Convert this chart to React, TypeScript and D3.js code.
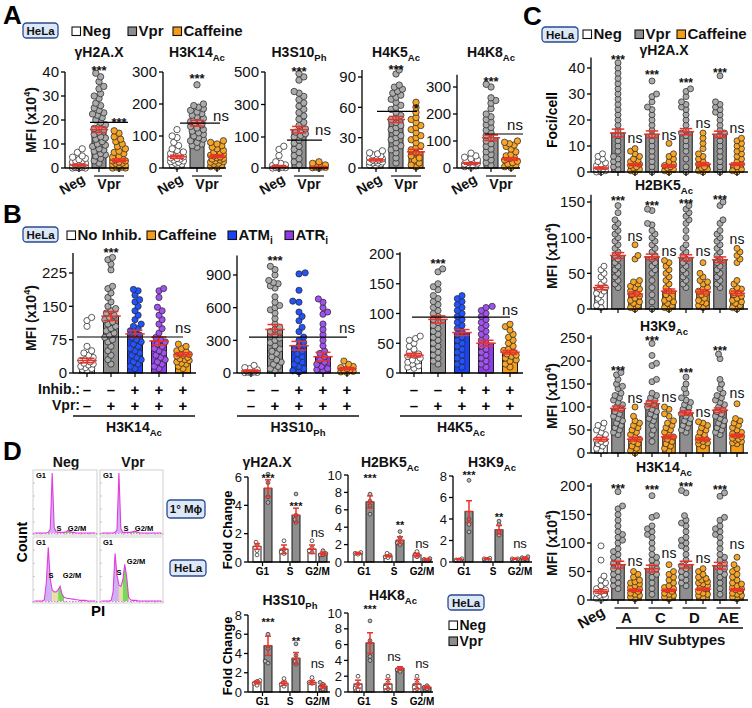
import React from 'react';
import * as d3 from 'd3';

const FONT = "'Liberation Sans', Arial, Helvetica, sans-serif";

const C = {
  neg: '#ffffff', vpr: '#8e8e8e', caff: '#f59d17', atm: '#1a43f7', atr: '#8e3be8',
  negDot: '#ffffff', vprDot: '#ababab', caffDot: '#f7a526', atmDot: '#2353ff', atrDot: '#a352f2',
  err: '#e8342a', ink: '#111111',
};

// ---------------- Panel A data ----------------
const aTitles = ['γH2A.X', 'H3K14', 'H3S10', 'H4K5', 'H4K8'];
const aSubs = ['', 'Ac', 'Ph', 'Ac', 'Ac'];
const aGammaMeans = [1.2, 16, 3.2];
const aGammaErrs = [0.4, 1.2, 0.6];
const aGammaDots = [
  [8, 6.5, 5, 4.5, 4, 3.5, 3, 3, 2.5, 2, 2, 1.5, 1.5, 1, 1, 1, 0.5, 0.5, 0.5, 0.3, 0.2, 0, 0, 0],
  [39.5, 38, 36, 34, 33, 31, 30, 29, 27, 26, 25, 24, 23, 22.5, 22, 21, 20, 19, 18, 17, 16.5, 16, 15, 14, 13, 12.5, 12, 11, 10, 9.5, 9, 8, 7.5, 7, 6, 5.5, 5, 4, 3, 2],
  [15.5, 14.5, 13, 12, 11, 10, 9, 8, 7, 6.5, 6, 5, 4.5, 4, 3.5, 3, 3, 2.5, 2, 2, 1.5, 1, 1, 0.5, 0.5, 0, 0, 0],
];
const aK14Means = [35, 140, 37];
const aK14Errs = [5, 9, 4];
const aK14Dots = [
  [120, 100, 95, 80, 70, 60, 55, 50, 45, 40, 38, 35, 32, 30, 28, 25, 22, 20, 18, 15, 12, 10, 5],
  [260, 200, 195, 190, 185, 180, 175, 170, 165, 160, 155, 150, 148, 145, 140, 135, 130, 125, 120, 115, 110, 105, 100, 95, 90, 85, 80, 75, 70, 65],
  [85, 80, 75, 70, 65, 60, 55, 50, 48, 45, 42, 40, 38, 35, 32, 30, 28, 25, 22, 20, 18, 15, 12, 10, 5, 2],
];
const aS10Means = [5, 145, 4];
const aS10Errs = [3, 20, 1.5];
const aS10Dots = [
  [70, 60, 40, 20, 15, 10, 8, 5, 3, 2, 1, 0, 0],
  [490, 470, 450, 380, 370, 350, 330, 310, 290, 270, 250, 230, 210, 190, 170, 150, 140, 130, 120, 110, 100, 90, 80, 70, 60, 50, 40, 30, 20, 10],
  [20, 15, 12, 10, 8, 6, 5, 4, 3, 2, 1, 0],
];
const aK5Means = [8, 48, 16];
const aK5Errs = [1, 3, 2.5];
const aK5Dots = [
  [17, 15, 14, 13, 12, 11, 10, 9, 8, 8, 7, 6, 6, 5, 5, 4, 3, 2],
  [97, 93, 82, 80, 78, 76, 74, 72, 70, 68, 65, 62, 60, 58, 55, 52, 50, 48, 45, 42, 40, 38, 35, 32, 30, 28, 25, 22, 20, 18, 15, 10, 5],
  [65, 60, 55, 50, 48, 45, 42, 40, 38, 35, 32, 30, 28, 25, 22, 20, 18, 15, 12, 10, 8, 5, 3, 1],
];
const aK8Means = [17, 112, 33];
const aK8Errs = [3, 10, 5];
const aK8Dots = [
  [55, 45, 40, 35, 30, 25, 22, 20, 18, 15, 12, 10, 8, 5, 3],
  [310, 300, 260, 250, 240, 220, 200, 190, 180, 170, 160, 150, 140, 130, 120, 110, 100, 90, 80, 70, 60, 50, 40, 30, 20, 10],
  [100, 95, 90, 85, 80, 70, 60, 50, 45, 40, 35, 30, 25, 20, 15, 10, 5, 2],
];
const aSigLine = [19, 140, 90, 56, 126];
const aSigText = ['***', 'ns', 'ns', '*', 'ns'];

// ---------------- Panel B data ----------------
const bTitles = ['H3K14', 'H3S10', 'H4K5'];
const bSubs = ['Ac', 'Ph', 'Ac'];
const bInhib = ['–', '–', '+', '+', '+'];
const bVpr = ['–', '+', '+', '+', '+'];
const bK14Means = [28, 128, 88, 72, 42];
const bK14Errs = [5, 10, 8, 9, 4];
const bK14Dots = [
  [125, 118, 105, 60, 50, 45, 40, 35, 30, 28, 25, 22, 20, 18, 15, 12, 10, 8, 5],
  [260, 255, 245, 232, 195, 190, 180, 170, 160, 150, 145, 140, 135, 130, 125, 120, 115, 110, 105, 100, 95, 90, 85, 80, 75, 70, 60, 50, 40, 30, 20],
  [188, 185, 175, 165, 160, 150, 140, 130, 120, 110, 105, 100, 95, 90, 85, 80, 75, 70, 65, 60, 55, 50, 45, 40, 35, 30, 25, 20, 15, 10],
  [190, 185, 170, 148, 140, 130, 120, 110, 100, 90, 80, 75, 70, 65, 60, 55, 50, 45, 40, 35, 30, 25, 20, 15, 10],
  [65, 60, 55, 50, 48, 45, 42, 40, 38, 35, 32, 30, 28, 25, 22, 20, 15, 10],
];
const bS10Means = [20, 400, 250, 150, 40];
const bS10Errs = [8, 45, 40, 40, 10];
const bS10Dots = [
  [70, 50, 40, 30, 25, 20, 15, 10, 8, 5, 3, 0],
  [980, 950, 900, 850, 830, 820, 800, 780, 700, 650, 620, 600, 580, 550, 500, 450, 420, 400, 380, 350, 320, 300, 280, 250, 220, 200, 180, 150, 120, 100, 80, 60, 40, 20],
  [920, 910, 760, 660, 650, 560, 520, 480, 420, 380, 330, 300, 280, 250, 220, 200, 180, 150, 120, 100, 80, 60, 40, 20, 10],
  [680, 650, 600, 560, 540, 450, 400, 350, 300, 250, 200, 180, 150, 120, 100, 80, 60, 40, 30, 20],
  [110, 80, 60, 50, 40, 30, 20, 15, 10, 5],
];
const bK5Means = [30, 90, 68, 50, 35];
const bK5Errs = [3, 6, 5, 5, 3];
const bK5Dots = [
  [62, 58, 55, 50, 45, 40, 35, 32, 30, 28, 25, 22, 20, 18, 15, 12, 10, 8],
  [175, 170, 150, 145, 140, 130, 125, 120, 115, 110, 105, 100, 95, 90, 85, 80, 75, 70, 65, 60, 55, 50, 45, 40, 35, 30, 25, 20, 15],
  [130, 125, 120, 115, 110, 105, 100, 95, 90, 85, 80, 75, 70, 65, 60, 55, 50, 45, 40, 35, 30, 25, 20, 15, 10],
  [112, 110, 105, 100, 95, 90, 85, 80, 75, 70, 65, 60, 55, 50, 45, 40, 35, 30, 25, 20, 15, 10],
  [82, 78, 72, 65, 60, 55, 50, 45, 40, 38, 35, 32, 30, 28, 25, 22, 20, 15, 10],
];
const bSigLine = [81, 330, 94];

// ---------------- Panel C data ----------------
const cSubtypes = ['A', 'C', 'D', 'AE'];
const cTitles = ['γH2A.X', 'H2BK5', 'H3K9', 'H3K14'];
const cSubs = ['', 'Ac', 'Ac', 'Ac'];
const cGammaMeans = [1.5, 15, 2.8, 14.5, 2.3, 15.5, 3, 14.5, 3];
const cGammaErrs = [0.4, 1.5, 0.4, 1.3, 0.5, 1.2, 0.6, 1.2, 0.5];
const cGammaDots = [
  [7, 6, 5, 4, 3.5, 3, 2.5, 2, 1.5, 1, 1, 0.5, 0.5, 0, 0],
  [42, 40, 38, 36, 34, 32, 30, 28, 26, 24, 22, 20, 18, 16, 14, 12, 10, 8, 6, 5, 4, 3, 2, 1],
  [9, 8, 7, 6, 5, 4.5, 4, 3.5, 3, 2.5, 2, 1.5, 1, 0.5, 0],
  [35, 30, 29, 27, 25, 24, 22, 20, 18, 16, 14, 12, 10, 8, 6, 4, 2, 0],
  [11, 7, 6, 5, 4, 3, 2.5, 2, 1.5, 1, 0.5, 0],
  [32, 31, 29, 27, 26, 25, 24, 22, 20, 18, 16, 15, 14, 12, 10, 8, 5, 2, 0],
  [15, 13, 11, 9, 7, 6, 5, 4, 3, 2, 1.5, 1, 0.5, 0],
  [37, 27, 26, 25, 24, 23, 22, 20, 18, 16, 15, 14, 12, 10, 8, 6, 4, 2, 0],
  [13, 12, 11, 10, 9, 8, 7, 6, 5, 4, 3, 2, 1, 0.5, 0],
];
const cK5Means = [30, 75, 21, 73, 25, 72, 24, 69, 22];
const cK5Errs = [3, 4, 3, 4, 3, 4, 3, 4, 3];
const cK5Dots = [
  [60, 55, 50, 45, 40, 35, 30, 28, 25, 22, 20, 15, 10, 5, 2],
  [145, 135, 125, 120, 115, 110, 105, 100, 95, 90, 85, 80, 75, 70, 65, 60, 55, 50, 45, 40, 35, 30],
  [90, 75, 70, 40, 38, 35, 32, 30, 28, 25, 22, 20, 18, 15, 12, 10, 8, 5, 2, 0],
  [140, 138, 120, 118, 110, 105, 100, 95, 90, 85, 80, 75, 70, 65, 60, 55, 50, 40, 30, 20, 10, 0],
  [68, 65, 60, 55, 50, 45, 40, 35, 30, 25, 20, 15, 12, 10, 8, 5, 2, 0],
  [145, 140, 135, 130, 125, 120, 110, 100, 90, 85, 80, 75, 70, 65, 60, 55, 50, 45, 40, 35, 30],
  [65, 50, 45, 40, 38, 35, 30, 28, 25, 22, 20, 15, 12, 10, 8, 5, 2],
  [150, 145, 125, 120, 110, 105, 100, 95, 90, 85, 80, 75, 70, 65, 60, 55, 50, 45, 40, 35, 30],
  [85, 80, 75, 70, 65, 40, 35, 30, 28, 25, 22, 20, 18, 15, 12, 10, 8, 5, 2, 0],
];
const cK9Means = [30, 97, 30, 107, 35, 87, 30, 93, 38];
const cK9Errs = [4, 5, 4, 6, 4, 5, 3, 5, 3];
const cK9Dots = [
  [65, 60, 55, 50, 45, 40, 35, 30, 28, 25, 22, 20, 15, 10, 5],
  [175, 170, 160, 150, 145, 140, 130, 125, 120, 115, 110, 105, 100, 95, 90, 85, 80, 75, 70, 65, 60, 55, 50, 45, 40],
  [100, 80, 70, 65, 60, 55, 50, 45, 40, 35, 30, 25, 20, 15, 10, 5, 0],
  [238, 212, 195, 190, 160, 155, 130, 125, 120, 115, 110, 105, 100, 95, 90, 85, 80, 75, 70, 60, 50, 40, 25],
  [100, 95, 85, 80, 70, 65, 60, 55, 50, 45, 40, 35, 30, 25, 20, 15, 10, 5],
  [165, 150, 140, 130, 120, 115, 110, 105, 100, 95, 90, 85, 80, 75, 70, 65, 60, 55, 50, 45],
  [68, 65, 60, 55, 50, 45, 40, 35, 32, 30, 28, 25, 22, 20, 15],
  [215, 205, 160, 150, 140, 130, 125, 120, 115, 110, 105, 100, 95, 90, 85, 80, 75, 70, 65, 60, 55, 50, 45, 40],
  [107, 75, 70, 65, 60, 55, 50, 45, 42, 40, 38, 35, 32, 30, 28, 25, 22, 20],
];
const cK14Means = [15, 62, 17, 55, 17, 62, 19, 60, 18];
const cK14Errs = [3, 6, 2, 6, 2, 6, 2, 6, 2];
const cK14Dots = [
  [95, 70, 42, 35, 30, 25, 20, 18, 15, 12, 10, 8, 5, 3, 1],
  [190, 165, 160, 150, 140, 130, 120, 115, 110, 105, 100, 90, 85, 80, 75, 70, 65, 60, 55, 50, 45, 40, 35, 30, 25, 20],
  [50, 45, 40, 35, 32, 30, 28, 25, 22, 20, 18, 15, 12, 10, 8, 5, 2],
  [183, 148, 145, 130, 125, 120, 115, 110, 100, 90, 80, 75, 70, 65, 60, 55, 50, 45, 40, 30, 20, 10],
  [62, 50, 45, 40, 35, 30, 25, 22, 20, 18, 15, 12, 10, 8, 5, 2],
  [192, 188, 148, 140, 135, 130, 120, 110, 105, 100, 95, 90, 80, 70, 60, 55, 50, 45, 40, 35, 30, 25],
  [55, 50, 45, 40, 38, 35, 32, 30, 28, 25, 22, 20, 15, 12, 10, 8, 5],
  [188, 182, 145, 140, 130, 125, 120, 115, 110, 100, 90, 80, 75, 70, 65, 60, 55, 50, 45, 40, 30, 20, 10],
  [75, 62, 55, 50, 45, 40, 35, 30, 28, 25, 22, 20, 18, 15, 12, 10, 8, 5, 2],
];
// label heights (value units) for *** above Vpr and ns above caffeine bars
const cStarVals = [[44.2, 38.5, 35.4, 39.2], [156, 149, 151, 157], [185, 250, 180, 228], [201, 199, 203, 199]];
const cNsVals = [[11.2, 12.3, 17, 15], [95, 74, 74, 91], [109, 111, 78, 120], [60, 74, 65, 89]];

// ---------------- Panel D data ----------------
const dPhases = ['G1', 'S', 'G2/M'];
const dTitles = ['γH2A.X', 'H2BK5', 'H3K9', 'H3S10', 'H4K8'];
const dSubs = ['', 'Ac', 'Ac', 'Ph', 'Ac'];
const dMeans = [
  [1.1, 5.2, 0.9, 3.3, 0.9, 0.6],
  [1.0, 6.9, 0.7, 2.5, 0.8, 0.3],
  [0.25, 4.7, 0.3, 3.0, 0.3, 0.35],
  [1.0, 4.8, 0.9, 3.5, 1.0, 0.6],
  [1.0, 6.2, 1.0, 3.0, 1.0, 0.6],
];
const dErrs = [
  [0.2, 0.6, 0.3, 0.5, 0.3, 0.1],
  [0.1, 0.7, 0.1, 0.4, 0.2, 0.1],
  [0.05, 1.0, 0.05, 0.4, 0.05, 0.1],
  [0.15, 1.0, 0.2, 0.6, 0.2, 0.2],
  [0.5, 1.3, 0.6, 0.2, 0.6, 0.15],
];
const dDots = [
  [[1.4, 1.2, 0.8, 0.5], [6.2, 5.6, 4.6, 4.2], [1.5, 0.9, 0.7, 0.6], [4.8, 3.3, 3.0, 2.8], [1.5, 1.0, 0.8, 0.7], [0.8, 0.6, 0.5, 0.5]],
  [[1.1, 1.0, 0.9], [7.8, 7.0, 6.5, 5.5], [1.0, 0.8, 0.6, 0.5], [3.5, 2.8, 2.2, 2.0], [1.2, 0.9, 0.6], [0.4, 0.3, 0.2]],
  [[0.3, 0.2, 0.2], [7.6, 4.0, 3.5, 2.8], [0.35, 0.3, 0.25], [3.8, 3.5, 2.8, 2.5], [0.3, 0.3, 0.2], [0.5, 0.4, 0.3]],
  [[1.2, 1.1, 0.9, 0.7], [6.0, 4.5, 3.2, 3.0], [1.4, 1.0, 0.8, 0.6], [5.0, 3.8, 3.2, 2.9], [1.5, 1.0, 0.9], [1.0, 0.8, 0.5, 0.3]],
  [[2.0, 1.0, 0.5, 0.3], [9.0, 6.5, 4.5, 4.0], [2.0, 1.2, 0.6, 0.4], [3.0, 2.8, 2.6], [2.0, 1.2, 0.6, 0.4], [0.8, 0.6, 0.4]],
];
const dTicks = [[0, 2, 4, 6], [0, 2, 4, 6, 8, 10], [0, 2, 4, 6, 8], [0, 2, 4, 6, 8], [0, 2, 4, 6, 8, 10]];
// significance labels per plot: [bar index, text, value]
const dSig: [number, string, number][][] = [
  [[1, '***', 6.14], [3, '***', 4.16], [4.5, 'ns', 1.76]],
  [[1, '***', 10.0], [3, '**', 4.5], [4.5, 'ns', 1.6]],
  [[1, '***', 8.3], [3, '**', 4.4], [4.5, 'ns', 1.3]],
  [[1, '***', 7.5], [3, '**', 5.6], [4.5, 'ns', 2.5]],
  [[1, '***', 10.8], [2.5, 'ns', 3.9], [4.5, 'ns', 3.0]],
];

// flow histograms (counts per PI bin, % of box height)
const histTopNeg = [0, 0, 0, 0, 0, 0, 0, 1, 6, 100, 9, 2, 1, 1, 1, 1, 2, 4, 3, 1, 1, 0, 0, 0, 0, 0, 0, 0, 0, 0, 0, 0];
const histTopVpr = [0, 0, 0, 0, 0, 0, 0, 1, 5, 100, 7, 1, 1, 1, 1, 1, 2, 3, 2, 1, 0, 0, 0, 0, 0, 0, 0, 0, 0, 0, 0, 0];
const histHeLaNeg = [0, 0, 0, 0, 0, 2, 30, 88, 36, 18, 15, 15, 18, 24, 11, 6, 5, 4, 4, 3, 3, 2, 2, 1, 1, 1, 1, 0, 0, 0, 0, 0];
const histHeLaVpr = [0, 0, 0, 0, 0, 1, 15, 78, 42, 26, 24, 34, 60, 40, 6, 2, 1, 1, 1, 0, 0, 0, 0, 0, 0, 0, 0, 0, 0, 0, 0, 0];

// ---------------- helpers ----------------
type Scale = (v: number) => number;

function swarm(vals: number[], cx: number, y: Scale, r: number, spread: number) {
  const pts: { x: number; y: number }[] = [];
  const sorted = vals.slice().sort((a, b) => a - b);
  const minD = r * 1.55;
  const step = r * 0.5;
  const n = Math.max(1, Math.floor(spread / step));
  sorted.forEach((v, idx) => {
    const py = y(v);
    let bestX = cx;
    let bestScore = -Infinity;
    const sgn = idx % 2 === 0 ? 1 : -1;
    for (let k = 0; k <= n * 2; k++) {
      const off = k === 0 ? 0 : Math.ceil(k / 2) * step * (k % 2 === 1 ? sgn : -sgn);
      const px = cx + off;
      let md = Infinity;
      for (const p of pts) {
        const dd = Math.hypot(p.x - px, p.y - py);
        if (dd < md) md = dd;
      }
      if (md >= minD) { bestX = px; break; }
      if (md > bestScore + 0.01) { bestScore = md; bestX = px; }
    }
    pts.push({ x: bestX, y: py });
  });
  return pts;
}

interface PlotDef {
  axisX: number; endX: number; y: d3.ScaleLinear<number, number>; top: number; ticks: number[];
  xs: number[]; means: number[]; errs: number[]; dots: number[][];
  barFill: string[]; dotFill: string[]; barW: number; r: number; spread: number;
  tickFs: number; xTicks?: number[]; capW?: number;
}

function DotBars({ p }: { p: PlotDef }) {
  const y0 = p.y(0);
  const yTop = p.y(p.top);
  const cap = p.capW ?? p.barW * 0.5;
  const xt = p.xTicks ?? p.xs;
  return (
    <g>
      {p.xs.map((x, i) => (
        <rect key={'b' + i} x={x - p.barW / 2} y={p.y(p.means[i])} width={p.barW}
          height={Math.max(0, y0 - p.y(p.means[i]))} fill={p.barFill[i]} stroke="#1a1a1a" strokeWidth={1} />
      ))}
      {p.xs.map((x, i) => swarm(p.dots[i], x, p.y, p.r, p.spread).map((pt, j) => (
        <circle key={'d' + i + '_' + j} cx={pt.x} cy={pt.y} r={p.r} fill={p.dotFill[i]} stroke="#2a2a2a" strokeWidth={0.75} />
      )))}
      {p.xs.map((x, i) => {
        const m = p.y(p.means[i]); const lo = p.y(p.means[i] - p.errs[i]); const hi = p.y(p.means[i] + p.errs[i]);
        return (
          <g key={'e' + i} stroke={C.err} strokeWidth={1.5}>
            <line x1={x} x2={x} y1={lo} y2={hi} />
            <line x1={x - cap} x2={x + cap} y1={hi} y2={hi} />
            <line x1={x - cap} x2={x + cap} y1={lo} y2={lo} />
            <line x1={x - cap * 1.3} x2={x + cap * 1.3} y1={m} y2={m} />
          </g>
        );
      })}
      <line x1={p.axisX} x2={p.axisX} y1={y0} y2={yTop} stroke="#000" strokeWidth={1.3} />
      <line x1={p.axisX} x2={p.endX} y1={y0} y2={y0} stroke="#000" strokeWidth={1.3} />
      {p.ticks.map((t) => (
        <g key={'t' + t}>
          <line x1={p.axisX - 4} x2={p.axisX} y1={p.y(t)} y2={p.y(t)} stroke="#000" strokeWidth={1.3} />
          <text x={p.axisX - 6} y={p.y(t) + p.tickFs * 0.36} fontSize={p.tickFs} textAnchor="end" fontFamily={FONT} fill={C.ink}>{t}</text>
        </g>
      ))}
      {xt.map((x, i) => (
        <line key={'xt' + i} x1={x} x2={x} y1={y0} y2={y0 + 4} stroke="#000" strokeWidth={1.2} />
      ))}
    </g>
  );
}

function Lbl({ x, y, main, sub, fs, anchor = 'middle', weight = 'bold', rotate }: {
  x: number; y: number; main: string; sub?: string; fs: number; anchor?: string; weight?: string; rotate?: number;
}) {
  return (
    <text x={x} y={y} fontSize={fs} fontWeight={weight} textAnchor={anchor as any} fontFamily={FONT} fill={C.ink}
      transform={rotate ? `rotate(${rotate},${x},${y})` : undefined}>
      {main}
      {sub ? <tspan fontSize={fs * 0.68} dy={fs * 0.26}>{sub}</tspan> : null}
    </text>
  );
}

function Stars({ x, cy, txt, fs }: { x: number; cy: number; txt: string; fs: number }) {
  const isStar = txt.indexOf('*') >= 0;
  return (
    <text x={x} y={isStar ? cy + fs * 0.6 : cy} fontSize={fs} fontWeight={isStar ? 'bold' : 'normal'} textAnchor="middle" fontFamily={FONT} fill={C.ink}>{txt}</text>
  );
}

function MFI({ x, y, fs = 14 }: { x: number; y: number; fs?: number }) {
  return (
    <text x={x} y={y} fontSize={fs} fontWeight="bold" textAnchor="middle" fontFamily={FONT} fill={C.ink} transform={`rotate(-90,${x},${y})`}>
      MFI (x10<tspan fontSize={fs * 0.65} dy={-fs * 0.4}>4</tspan><tspan dy={fs * 0.4}>)</tspan>
    </text>
  );
}

function HeLaBox({ x, y, w = 35, h = 15, label = 'HeLa', fs = 11.5 }: { x: number; y: number; w?: number; h?: number; label?: string; fs?: number }) {
  return (
    <g>
      <rect x={x} y={y} width={w} height={h} rx={3.5} fill="#dce8f8" stroke="#2a4a8e" strokeWidth={1.3} />
      <text x={x + w / 2} y={y + h / 2 + fs * 0.36} fontSize={fs} fontWeight="bold" textAnchor="middle" fontFamily={FONT} fill={C.ink}>{label}</text>
    </g>
  );
}

function LegItem({ x, y, fill, main, sub, fs = 15 }: { x: number; y: number; fill: string; main: string; sub?: string; fs?: number }) {
  return (
    <g>
      <rect x={x} y={y - 9} width={8.5} height={8.5} fill={fill} stroke="#111" strokeWidth={1.1} />
      <Lbl x={x + 10.5} y={y} main={main} sub={sub} fs={fs} anchor="start" />
    </g>
  );
}

function Histo({ x, y, w, h, counts, s0, g0, g1 }: { x: number; y: number; w: number; h: number; counts: number[]; s0: number; g0: number; g1: number }) {
  const xs = d3.scaleLinear().domain([0, counts.length - 1]).range([x + 1.5, x + w - 1.5]);
  const ys = d3.scaleLinear().domain([0, 100]).range([y + h - 2, y + 3]);
  const pts: [number, number][] = counts.map((c, i) => [i, c]);
  const area = d3.area<[number, number]>().x((d) => xs(d[0])).y0(ys(0)).y1((d) => ys(d[1]));
  const line = d3.line<[number, number]>().x((d) => xs(d[0])).y((d) => ys(d[1]));
  const ticksX = d3.range(0, 9).map((i) => x + (w * i) / 8);
  return (
    <g>
      <rect x={x} y={y} width={w} height={h} fill="#fff" stroke="#c4c4c4" strokeWidth={0.8} />
      {ticksX.map((tx, i) => <line key={i} x1={tx} x2={tx} y1={y + h} y2={y + h - 2} stroke="#aaa" strokeWidth={0.6} />)}
      {d3.range(1, 5).map((i) => <line key={'l' + i} x1={x} x2={x + 2} y1={y + (h * i) / 5} y2={y + (h * i) / 5} stroke="#aaa" strokeWidth={0.6} />)}
      <path d={area(pts.slice(0, s0 + 1)) || ''} fill="#c7a5ee" opacity={0.85} />
      <path d={area(pts.slice(s0, g0 + 1)) || ''} fill="#e6e0a2" />
      <path d={area(pts.slice(g0, g1 + 1)) || ''} fill="#78d957" />
      <line x1={x} x2={x + w} y1={y + h - 1.5} y2={y + h - 1.5} stroke="#d45ad4" strokeWidth={0.8} strokeDasharray="1.5,1.5" />
      <path d={line(pts) || ''} fill="none" stroke="#e13ce0" strokeWidth={1.1} />
    </g>
  );
}

export default function App() {
  const FS_T = 14; // plot title
  // ---------- Panel A layout ----------
  const aY0 = 168;
  const aAxisX = [65, 163, 265, 362, 457];
  const aScales = [
    d3.scaleLinear().domain([0, 40]).range([aY0, 72]),
    d3.scaleLinear().domain([0, 300]).range([aY0, 72]),
    d3.scaleLinear().domain([0, 100, 500]).range([aY0, 137, 72]),
    d3.scaleLinear().domain([0, 90]).range([aY0, 77]),
    d3.scaleLinear().domain([0, 300]).range([aY0, 87]),
  ];
  const aTops = [40, 300, 500, 97, 345];
  const aTickSets = [[0, 10, 20, 30, 40], [0, 100, 200, 300], [0, 100, 300, 500], [0, 30, 60, 90], [0, 100, 200, 300]];
  const aMeans = [aGammaMeans, aK14Means, aS10Means, aK5Means, aK8Means];
  const aErrs = [aGammaErrs, aK14Errs, aS10Errs, aK5Errs, aK8Errs];
  const aDots = [aGammaDots, aK14Dots, aS10Dots, aK5Dots, aK8Dots];
  const aStarVals = [42.2, 290, 525, 101, 333];
  const aSigVals = [20.5, 147, 112, 62, 141];
  const aSigLineX: [number, number][] = [[11, 9], [3, 3], [8, 3], [1, 1], [14, 12]];

  // ---------- Panel B layout ----------
  const bY0 = 373;
  const bAxisX = [73, 237, 400];
  const bScales = [
    d3.scaleLinear().domain([0, 225]).range([bY0, 273]),
    d3.scaleLinear().domain([0, 900]).range([bY0, 275]),
    d3.scaleLinear().domain([0, 200]).range([bY0, 254]),
  ];
  const bTops = [270, 1080, 203];
  const bTickSets = [[0, 75, 150, 225], [0, 300, 600, 900], [0, 50, 100, 150, 200]];
  const bMeans = [bK14Means, bS10Means, bK5Means];
  const bErrs = [bK14Errs, bS10Errs, bK5Errs];
  const bDots = [bK14Dots, bS10Dots, bK5Dots];
  const bStarVals = [279, 1064, 190];
  const bNsVals = [90, 367, 97.5];
  const bFill = [C.neg, C.vpr, C.atm, C.atr, C.caff];
  const bDotFill = [C.negDot, C.vprDot, C.atmDot, C.atrDot, C.caffDot];

  // ---------- Panel C layout ----------
  const cAxisX = 591;
  const cXs = d3.range(9).map((i) => 601 + 17 * i);
  const cScales = [
    d3.scaleLinear().domain([0, 40]).range([172, 68]),
    d3.scaleLinear().domain([0, 150]).range([309, 202]),
    d3.scaleLinear().domain([0, 250]).range([453, 338]),
    d3.scaleLinear().domain([0, 200]).range([600, 486]),
  ];
  const cTops = [44, 160, 256, 205];
  const cTickSets = [[0, 10, 20, 30, 40], [0, 50, 100, 150], [0, 50, 100, 150, 200, 250], [0, 50, 100, 150, 200]];
  const cMeans = [cGammaMeans, cK5Means, cK9Means, cK14Means];
  const cErrs = [cGammaErrs, cK5Errs, cK9Errs, cK14Errs];
  const cDots = [cGammaDots, cK5Dots, cK9Dots, cK14Dots];
  const cFill = [C.neg, C.vpr, C.caff, C.vpr, C.caff, C.vpr, C.caff, C.vpr, C.caff];
  const cDotFill = [C.negDot, C.vprDot, C.caffDot, C.vprDot, C.caffDot, C.vprDot, C.caffDot, C.vprDot, C.caffDot];
  const cTitleY = [55, 190, 331, 472];

  // ---------- Panel D layout ----------
  const dAxis = [
    { ax: 248, end: 330, y0: 562, top: 477, max: 6, xs: [257, 268, 284, 296, 312, 323], tx: 267, ty: 467 },
    { ax: 348, end: 433, y0: 562, top: 475, max: 10, xs: [358, 370, 388, 400, 417, 427], tx: 390, ty: 467 },
    { ax: 453, end: 532, y0: 562, top: 476, max: 8, xs: [459, 469, 487, 499, 515, 525], tx: 492, ty: 467 },
    { ax: 248, end: 330, y0: 692, top: 615, max: 8, xs: [257, 268, 284, 296, 312, 323], tx: 290, ty: 605 },
    { ax: 348, end: 433, y0: 692, top: 613, max: 10, xs: [358, 370, 388, 400, 417, 427], tx: 393, ty: 600 },
  ];

  return (
    <svg width={752} height={708} viewBox="0 0 752 708" style={{ position: 'absolute', left: 0, top: 0, background: '#fff' }}>
      <rect x={0} y={0} width={752} height={708} fill="#fff" />
      {/* panel letters */}
      <text x={3} y={24} fontSize={26} fontWeight="bold" fontFamily={FONT}>A</text>
      <text x={3} y={223} fontSize={26} fontWeight="bold" fontFamily={FONT}>B</text>
      <text x={523} y={25} fontSize={26} fontWeight="bold" fontFamily={FONT}>C</text>
      <text x={3} y={460} fontSize={26} fontWeight="bold" fontFamily={FONT}>D</text>

      {/* ===== Panel A ===== */}
      <HeLaBox x={23} y={23} />
      <LegItem x={72} y={36} fill={C.neg} main="Neg" />
      <LegItem x={128} y={36} fill={C.vpr} main="Vpr" />
      <LegItem x={173} y={36} fill={C.caff} main="Caffeine" />
      <MFI x={36} y={120} />
      {aAxisX.map((ax, k) => {
        const xs = [ax + 14, ax + 34, ax + 54];
        const y = aScales[k];
        const p: PlotDef = {
          axisX: ax, endX: ax + 63, y: y as any, top: aTops[k], ticks: aTickSets[k], xs,
          means: aMeans[k], errs: aErrs[k], dots: aDots[k],
          barFill: [C.neg, C.vpr, C.caff], dotFill: [C.negDot, C.vprDot, C.caffDot],
          barW: 14, r: 3.2, spread: 6.5, tickFs: 15,
        };
        const sy = y(aSigLine[k]);
        return (
          <g key={'A' + k}>
            <DotBars p={p} />
            <Lbl x={xs[1]} y={57} main={aTitles[k]} sub={aSubs[k]} fs={FS_T} />
            <Stars x={xs[1]} cy={y(aStarVals[k])} txt="***" fs={13} />
            <line x1={xs[0] + aSigLineX[k][0]} x2={xs[2] + aSigLineX[k][1]} y1={sy} y2={sy} stroke="#000" strokeWidth={1.2} />
            <Stars x={xs[2] + (aSigText[k] === 'ns' ? 4 : 0)} cy={y(aSigVals[k])} txt={aSigText[k]} fs={aSigText[k] === 'ns' ? 15 : 13} />
            <Lbl x={xs[0] + 7} y={182} main="Neg" fs={14} anchor="end" rotate={-30} />
            <line x1={xs[1] - 5} x2={xs[2] + 5} y1={176} y2={176} stroke="#222" strokeWidth={1.3} />
            <Lbl x={(xs[1] + xs[2]) / 2} y={189} main="Vpr" fs={14} />
          </g>
        );
      })}

      {/* ===== Panel B ===== */}
      <HeLaBox x={23} y={227} />
      <LegItem x={67} y={240} fill={C.neg} main="No Inhib." />
      <LegItem x={147} y={240} fill={C.caff} main="Caffeine" />
      <LegItem x={228} y={240} fill={C.atm} main="ATM" sub="i" />
      <LegItem x={285} y={240} fill={C.atr} main="ATR" sub="i" />
      <MFI x={36} y={318} />
      {bAxisX.map((ax, k) => {
        const xs = d3.range(5).map((i) => ax + 14 + 24 * i);
        const y = bScales[k];
        const p: PlotDef = {
          axisX: ax, endX: ax + 123, y, top: bTops[k], ticks: bTickSets[k], xs,
          means: bMeans[k], errs: bErrs[k], dots: bDots[k],
          barFill: bFill, dotFill: bDotFill, barW: 15, r: 3.1, spread: 6.5, tickFs: 15,
        };
        const sy = y(bSigLine[k]);
        return (
          <g key={'B' + k}>
            <DotBars p={p} />
            <Stars x={xs[1]} cy={y(bStarVals[k])} txt="***" fs={13} />
            <line x1={xs[0] - 10 + (k === 0 ? 0 : 8)} x2={xs[4]} y1={sy} y2={sy} stroke="#000" strokeWidth={1.2} />
            <Stars x={xs[4]} cy={y(bNsVals[k])} txt="ns" fs={15} />
            {xs.map((x, i) => (
              <g key={'s' + i}>
                <text x={x} y={395} fontSize={15} fontWeight="bold" textAnchor="middle" fontFamily={FONT}>{bInhib[i]}</text>
                <text x={x} y={411} fontSize={15} fontWeight="bold" textAnchor="middle" fontFamily={FONT}>{bVpr[i]}</text>
              </g>
            ))}
            <line x1={ax} x2={ax + 122} y1={416} y2={416} stroke="#111" strokeWidth={1.3} />
            <Lbl x={ax + 61} y={432} main={bTitles[k]} sub={bSubs[k]} fs={FS_T} />
          </g>
        );
      })}
      <Lbl x={80} y={394} main="Inhib.:" fs={14} anchor="end" />
      <Lbl x={80} y={410} main="Vpr:" fs={14} anchor="end" />

      {/* ===== Panel C ===== */}
      <HeLaBox x={542} y={27} w={36} />
      <LegItem x={583} y={39} fill={C.neg} main="Neg" />
      <LegItem x={635} y={39} fill={C.vpr} main="Vpr" />
      <LegItem x={677} y={39} fill={C.caff} main="Caffeine" />
      <text x={557} y={120} fontSize={14} fontWeight="bold" textAnchor="middle" fontFamily={FONT} transform="rotate(-90,557,120)">Foci/cell</text>
      <MFI x={557} y={256} />
      <MFI x={557} y={396} />
      <MFI x={557} y={543} />
      {cScales.map((y, k) => {
        const p: PlotDef = {
          axisX: cAxisX, endX: 748, y, top: cTops[k], ticks: cTickSets[k], xs: cXs,
          means: cMeans[k], errs: cErrs[k], dots: cDots[k],
          barFill: cFill, dotFill: cDotFill, barW: 12.5, r: 3.0, spread: 5, tickFs: 15,
        };
        return (
          <g key={'C' + k}>
            <DotBars p={p} />
            <Lbl x={664} y={cTitleY[k]} main={cTitles[k]} sub={cSubs[k]} fs={FS_T} />
            {[0, 1, 2, 3].map((j) => (
              <g key={'cs' + j}>
                <Stars x={cXs[1 + 2 * j]} cy={y(cStarVals[k][j])} txt="***" fs={12} />
                <Stars x={cXs[2 + 2 * j]} cy={y(cNsVals[k][j])} txt="ns" fs={14} />
              </g>
            ))}
          </g>
        );
      })}
      <Lbl x={606} y={615} main="Neg" fs={15} anchor="end" rotate={-30} />
      {cSubtypes.map((s, j) => {
        const cx = (cXs[1 + 2 * j] + cXs[2 + 2 * j]) / 2;
        return (
          <g key={'st' + j}>
            <line x1={cx - 12} x2={cx + 12} y1={608} y2={608} stroke="#111" strokeWidth={1.3} />
            <Lbl x={cx} y={623} main={s} fs={15} />
          </g>
        );
      })}
      <line x1={cXs[1] - 2} x2={cXs[8] + 6} y1={628} y2={628} stroke="#111" strokeWidth={1.3} />
      <Lbl x={677} y={645} main="HIV Subtypes" fs={15} />

      {/* ===== Panel D ===== */}
      <Lbl x={66} y={467} main="Neg" fs={14} />
      <Lbl x={133} y={467} main="Vpr" fs={14} />
      <Histo x={33} y={470} w={64} h={65} counts={histTopNeg} s0={11} g0={15} g1={20} />
      <Histo x={100} y={470} w={63} h={65} counts={histTopVpr} s0={11} g0={15} g1={20} />
      <Histo x={33} y={537} w={64} h={66} counts={histHeLaNeg} s0={9} g0={12} g1={15} />
      <Histo x={100} y={537} w={63} h={66} counts={histHeLaVpr} s0={9} g0={11} g1={14} />
      {[
        [36, 478, 'G1'], [59, 531, 'S'], [77, 531, 'G2/M'], [103, 478, 'G1'], [126, 531, 'S'], [144, 531, 'G2/M'],
        [36, 545, 'G1'], [51, 578, 'S'], [72, 578, 'G2/M'], [103, 545, 'G1'], [119, 575, 'S'], [136, 564, 'G2/M'],
      ].map(([x, y, t], i) => (
        <text key={'hl' + i} x={x as number} y={y as number} fontSize={7.5} fontWeight="bold" textAnchor={i % 3 === 0 ? 'start' : 'middle'} fontFamily={FONT}>{t as string}</text>
      ))}
      <text x={27} y={542} fontSize={14} fontWeight="bold" textAnchor="middle" fontFamily={FONT} transform="rotate(-90,27,542)">Count</text>
      <text x={98} y={616} fontSize={15} fontWeight="bold" textAnchor="middle" fontFamily={FONT}>PI</text>
      <HeLaBox x={167} y={500} w={38} h={18} label="1° Mϕ" fs={11.5} />
      <HeLaBox x={170} y={560} w={36} h={16} />
      <text x={232} y={530} fontSize={13} fontWeight="bold" textAnchor="middle" fontFamily={FONT} transform="rotate(-90,232,530)">Fold Change</text>
      <text x={232} y={656} fontSize={13} fontWeight="bold" textAnchor="middle" fontFamily={FONT} transform="rotate(-90,232,656)">Fold Change</text>
      {dAxis.map((a, k) => {
        const y = d3.scaleLinear().domain([0, a.max]).range([a.y0, a.top]);
        const centers = [0, 1, 2].map((g) => (a.xs[2 * g] + a.xs[2 * g + 1]) / 2);
        const p: PlotDef = {
          axisX: a.ax, endX: a.end, y, top: a.max, ticks: dTicks[k], xs: a.xs,
          means: dMeans[k], errs: dErrs[k], dots: dDots[k],
          barFill: [C.neg, C.vpr, C.neg, C.vpr, C.neg, C.vpr], dotFill: ['#fff', '#bdbdbd', '#fff', '#bdbdbd', '#fff', '#bdbdbd'],
          barW: 8, r: 1.9, spread: 3, tickFs: 13, xTicks: centers, capW: 3,
        };
        return (
          <g key={'D' + k}>
            <DotBars p={p} />
            <Lbl x={a.tx} y={a.ty} main={dTitles[k]} sub={dSubs[k]} fs={FS_T} />
            {dPhases.map((ph, g) => (
              <text key={'ph' + g} x={centers[g]} y={a.y0 + 13} fontSize={10} fontWeight="bold" textAnchor="middle" fontFamily={FONT}>{ph}</text>
            ))}
            {dSig[k].map(([bi, t, v], j) => {
              const x = bi % 1 === 0 ? a.xs[bi] : (a.xs[Math.floor(bi)] + a.xs[Math.ceil(bi)]) / 2;
              return <Stars key={'ds' + j} x={x} cy={y(v)} txt={t} fs={t === 'ns' ? 13 : 11} />;
            })}
          </g>
        );
      })}
      <HeLaBox x={448} y={595} w={36} h={15} />
      <LegItem x={449} y={630} fill={C.neg} main="Neg" fs={14} />
      <LegItem x={449} y={646} fill={C.vpr} main="Vpr" fs={14} />
    </svg>
  );
}
